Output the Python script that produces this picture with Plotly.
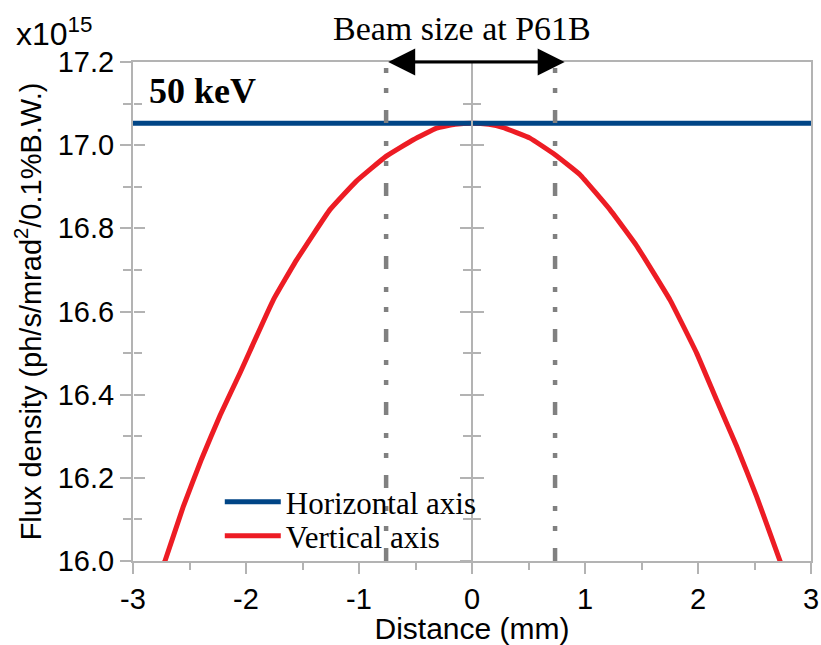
import plotly.graph_objects as go

# ---------------- data ----------------
distance_mm = [-2.78, -2.717, -2.555, -2.392, -2.230, -2.053, -1.965, -1.758, -1.552, -1.257,
               -1.025, -0.761, -0.519, -0.313, -0.15, 0.0, 0.15, 0.277, 0.513, 0.735,
               0.956, 1.221, 1.457, 1.752, 1.988, 2.165, 2.342, 2.519, 2.726, 2.78]
vertical_flux = [15.96, 16.0, 16.131, 16.246, 16.350, 16.452, 16.505, 16.628, 16.724, 16.845,
                 16.913, 16.973, 17.013, 17.041, 17.050, 17.053, 17.050, 17.042, 17.017, 16.977,
                 16.929, 16.845, 16.758, 16.628, 16.500, 16.387, 16.276, 16.155, 16.0, 15.96]
horizontal_x = [-3.0, 3.0]
horizontal_flux = [17.053, 17.053]

beam_edges = [-0.76, 0.735]          # dashed markers of beam size
arrow_span = [-0.755, 0.82]          # double arrow ends

x_ticks = [-3, -2, -1, 0, 1, 2, 3]
x_tick_labels = ["-3", "-2", "-1", "0", "1", "2", "3"]
y_range = [16.0, 17.2]
x_range = [-3, 3]

AXC = "#b3b3b3"
SANS = "Liberation Sans, Arial, sans-serif"
SERIF = "Liberation Serif, Times New Roman, serif"

fig = go.Figure()

fig.add_trace(go.Scatter(x=horizontal_x, y=horizontal_flux, mode="lines",
                         name="Horizontal axis", line=dict(color="#004586", width=5),
                         yaxis="y2", legend="legend"))
fig.add_trace(go.Scatter(x=distance_mm, y=vertical_flux, mode="lines",
                         name="Vertical axis",
                         line=dict(color="#ed1c24", width=5, shape="spline", smoothing=0.3),
                         yaxis="y", legend="legend2"))
for i, xe in enumerate(beam_edges):
    fig.add_trace(go.Scatter(x=[xe, xe], y=y_range, mode="lines", showlegend=False,
                             hoverinfo="skip",
                             line=dict(color="#808080", width=4.5,
                                       dash="13px,17px,5px,15px,5px,18px"),
                             yaxis="y3" if i == 0 else "y4"))

ytick_common = dict(range=y_range, dtick=0.2, tick0=16.0, showgrid=False, zeroline=False,
                    automargin=False,
                    linecolor=AXC, linewidth=2, tickcolor=AXC, tickwidth=2, ticklen=11,
                    minor=dict(dtick=0.1, ticklen=8, tickcolor=AXC, tickwidth=2, showgrid=False))

legend_common = dict(xanchor="left", yanchor="top", bgcolor="rgba(0,0,0,0)",
                     font=dict(family=SERIF, size=31, color="black"), itemwidth=56)

fig.update_layout(
    width=821, height=645,
    margin=dict(l=133, r=10, t=62, b=84, autoexpand=False),
    paper_bgcolor="white", plot_bgcolor="white",
    showlegend=True,
    legend=dict(x=0.128, y=0.172, **legend_common),
    legend2=dict(x=0.128, y=0.104, **legend_common),
    xaxis=dict(range=x_range, tickvals=x_ticks, ticktext=x_tick_labels, automargin=False,
               showgrid=False, zeroline=False, showline=True, mirror=True,
               linecolor=AXC, linewidth=2, ticks="outside", ticklen=11, tickcolor=AXC,
               tickwidth=2,
               minor=dict(dtick=0.5, tick0=-3, ticks="outside", ticklen=7, tickcolor=AXC,
                          tickwidth=2),
               tickfont=dict(family=SANS, size=29, color="black"),
               title=dict(text="Distance (mm)", font=dict(family=SANS, size=30, color="black"),
                          standoff=0)),
    yaxis=dict(**ytick_common, showline=True, mirror=True, ticks="outside",
               tickformat=".1f", tickfont=dict(family=SANS, size=29, color="black"),
               title=dict(text="Flux density (ph/s/mrad<sup>2</sup>/0.1%B.W.)",
                          font=dict(family=SANS, size=29, color="black"), standoff=8)),
    yaxis2=dict(**ytick_common, overlaying="y", anchor="free", position=0, side="left",
                showline=False, ticks="inside", showticklabels=False),
    yaxis3=dict(**ytick_common, overlaying="y", anchor="free", position=0.5, side="left",
                showline=True, ticks="outside", showticklabels=False),
    yaxis4=dict(**ytick_common, overlaying="y", anchor="free", position=0.5, side="left",
                showline=True, ticks="inside", showticklabels=False),
)
fig.layout.yaxis.minor.ticks = "outside"
fig.layout.yaxis2.minor.ticks = "inside"
fig.layout.yaxis3.minor.ticks = "outside"
fig.layout.yaxis4.minor.ticks = "inside"

# double-headed arrow
fig.add_annotation(x=arrow_span[1], y=y_range[1], ax=arrow_span[0], ay=y_range[1],
                   xref="x", yref="y", axref="x", ayref="y", text="", showarrow=True,
                   arrowside="end+start", arrowhead=2, startarrowhead=2,
                   arrowsize=1.8, startarrowsize=1.8, arrowwidth=3, arrowcolor="black",
                   standoff=0, startstandoff=0)

fig.add_annotation(text="Beam size at P61B", x=0.485, y=1.068, xref="paper", yref="paper",
                   xanchor="center", yanchor="middle", showarrow=False,
                   font=dict(family=SERIF, size=34, color="black"))
fig.add_annotation(text="<b>50 keV</b>", x=0.02, y=0.942, xref="paper", yref="paper",
                   xanchor="left", yanchor="middle", showarrow=False,
                   font=dict(family=SERIF, size=36, color="black"))
fig.add_annotation(text="x10<sup>15</sup>", x=-0.176, y=1.06, xref="paper", yref="paper",
                   xanchor="left", yanchor="middle", showarrow=False,
                   font=dict(family=SANS, size=32, color="black"))

fig.write_html("out.html")
